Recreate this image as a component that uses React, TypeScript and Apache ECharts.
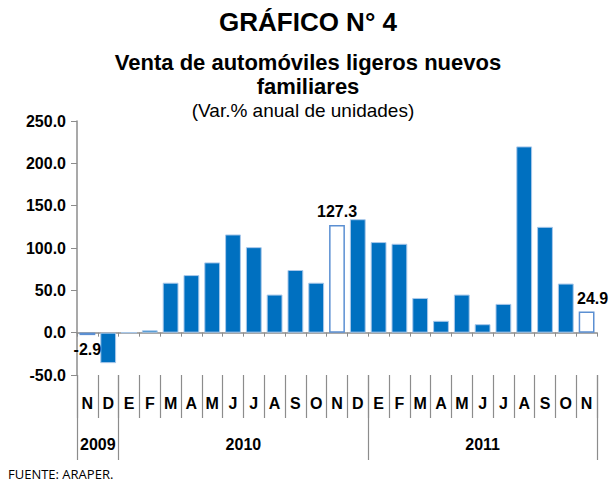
import React, { useEffect, useRef } from "react";
import * as echarts from "echarts";

const months = ["N","D","E","F","M","A","M","J","J","A","S","O","N","D","E","F","M","A","M","J","J","A","S","O","N"];
const values = [-2.9,-36,0,2.8,59,68,83,116,101,45,74,59,127.3,134,107,105,41,14,45,10,34,220,125,58,24.9];
const outlinedIdx = [0,12,24];
const labeledIdx = [0,12,24];
const yearLabels = ["2009","2010","2011"];
const yearCenters = [1,8,19.5];
const yearBounds = [0,2,14,25];

const FONT = "'Liberation Sans', Arial, sans-serif";

export default function App() {
  const ref = useRef<HTMLDivElement>(null);
  useEffect(() => {
    const chart = echarts.init(ref.current!, null, { renderer: "svg" });
    const data = values.map((v, i) => {
      const o: any = { value: v };
      if (outlinedIdx.includes(i)) {
        o.itemStyle = { color: "#ffffff", borderColor: "#5b8fd2", borderWidth: 1.5 };
      }
      if (labeledIdx.includes(i)) {
        o.label = {
          show: true,
          position: v < 0 ? "bottom" : "top",
          offset: i === 24 ? [6, 0] : [0, 0],
          distance: v < 0 ? 6 : 5,
          formatter: (p: any) => Number(p.value).toFixed(1),
          fontFamily: FONT, fontWeight: "bold", fontSize: 16, color: "#000",
        };
      }
      return o;
    });
    chart.setOption({
      animation: false,
      backgroundColor: "#ffffff",
      textStyle: { fontFamily: FONT },
      graphic: [
        { type: "text", style: { text: "GRÁFICO N° 4", x: 308, y: 22, textAlign: "center", textVerticalAlign: "middle", font: `bold 26px ${FONT}`, fill: "#000" } },
        { type: "text", style: { text: "Venta de automóviles ligeros nuevos", x: 308, y: 62, textAlign: "center", textVerticalAlign: "middle", font: `bold 22px ${FONT}`, fill: "#000" } },
        { type: "text", style: { text: "familiares", x: 308, y: 86, textAlign: "center", textVerticalAlign: "middle", font: `bold 22px ${FONT}`, fill: "#000" } },
        { type: "text", style: { text: "(Var.% anual de unidades)", x: 303, y: 110, textAlign: "center", textVerticalAlign: "middle", font: `19px ${FONT}`, fill: "#000" } },
        { type: "text", style: { text: "FUENTE: ARAPER.", x: 8, y: 474, textAlign: "left", textVerticalAlign: "middle", font: `13px 'Open Sans', sans-serif`, fill: "#000" } },
      ],
      grid: { left: 77, right: 14, top: 121, bottom: 109, containLabel: false },
      xAxis: [
        {
          type: "category", data: months, position: "bottom",
          axisLine: { onZero: true, lineStyle: { color: "#8c8c8c", width: 1.5 } },
          axisTick: { show: true, interval: 0, length: 4, lineStyle: { color: "#8c8c8c" } },
          axisLabel: { show: false },
        },
        {
          type: "category", data: months, position: "bottom",
          axisLine: { show: false, onZero: false },
          axisTick: { show: true, interval: 0, length: 43, lineStyle: { color: "#8c8c8c", width: 1.2 } },
          axisLabel: { show: true, interval: 0, margin: 20, fontFamily: FONT, fontWeight: "bold", fontSize: 16, color: "#000" },
        },
        {
          type: "value", min: 0, max: 25, position: "bottom",
          axisLine: { show: false, onZero: false },
          splitLine: { show: false },
          axisTick: { show: true, length: 85, customValues: yearBounds, lineStyle: { color: "#8c8c8c", width: 1.2 } },
          axisLabel: {
            show: true, margin: 61, customValues: yearCenters,
            formatter: (v: number) => yearLabels[yearCenters.indexOf(v)] ?? "",
            fontFamily: FONT, fontWeight: "bold", fontSize: 16, color: "#000",
          },
        },
      ],
      yAxis: {
        type: "value", min: -50, max: 250, interval: 50,
        axisLine: { show: true, lineStyle: { color: "#8c8c8c", width: 1.5 } },
        axisTick: { show: true, length: 6, lineStyle: { color: "#8c8c8c" } },
        splitLine: { show: false },
        axisLabel: { margin: 11, formatter: (v: number) => v.toFixed(1), fontFamily: FONT, fontWeight: "bold", fontSize: 16, color: "#000" },
      },
      series: [
        {
          type: "bar", xAxisIndex: 0, data,
          barCategoryGap: "24%",
          itemStyle: { color: "#0070c0", borderColor: "#a9c8ea", borderWidth: 1 },
        },
      ],
    });
    return () => chart.dispose();
  }, []);
  return <div ref={ref} style={{ width: 611, height: 484, position: "absolute", left: 0, top: 0 }} />;
}
